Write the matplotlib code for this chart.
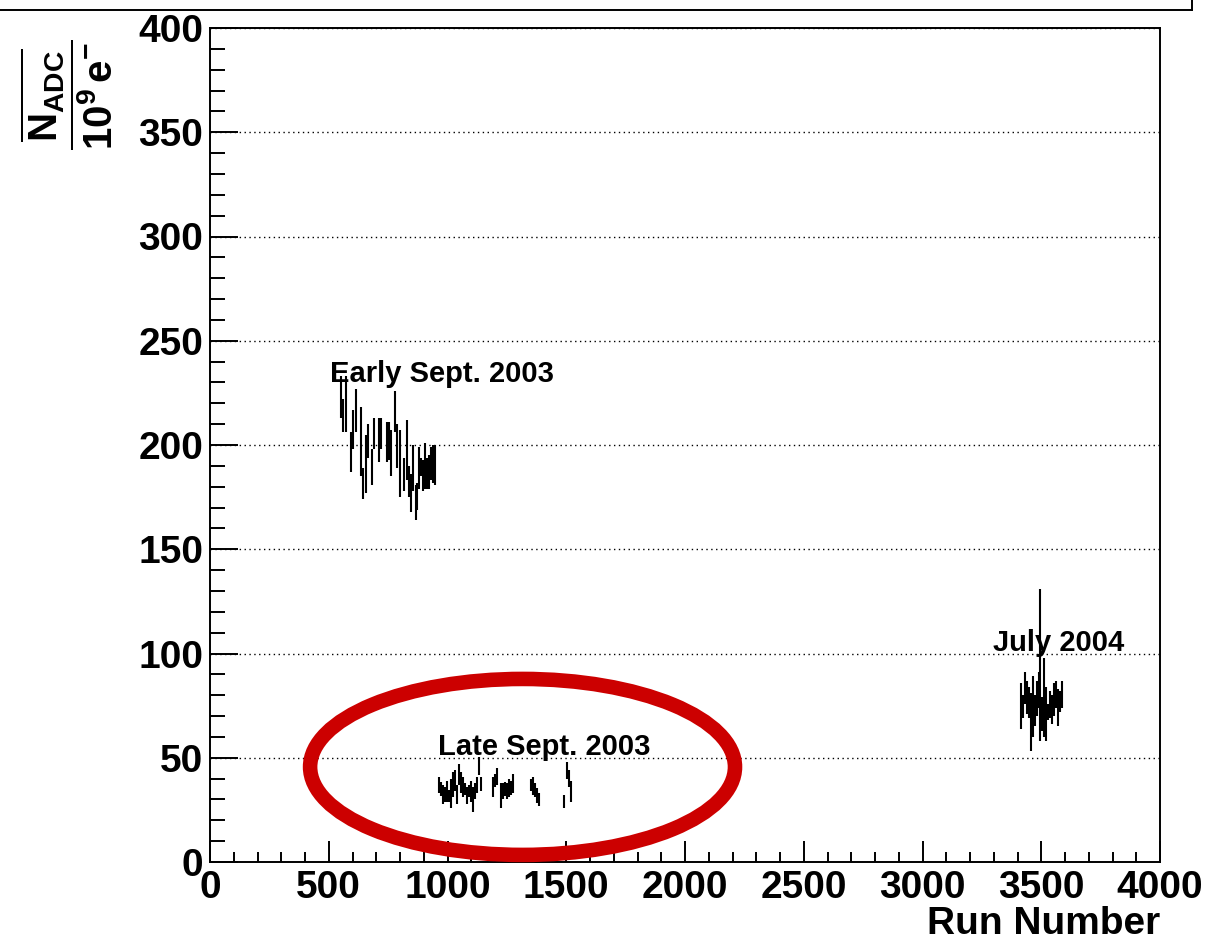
import numpy as np
import matplotlib
matplotlib.use("Agg")
import matplotlib.pyplot as plt
from matplotlib import font_manager as fm
from matplotlib.patches import Ellipse
from matplotlib.lines import Line2D
from matplotlib.ticker import MultipleLocator

# plain (not narrow) Liberation Sans Bold, loaded from its file
bold_path = None
for f in fm.findSystemFonts():
    if f.endswith("LiberationSans-Bold.ttf"):
        bold_path = f
        break
if bold_path:
    fm.fontManager.addfont(bold_path)
    bold_name = fm.FontProperties(fname=bold_path).get_name()
else:
    bold_name = "Liberation Sans"

plt.rcParams["font.family"] = [bold_name, "DejaVu Sans"]
plt.rcParams["font.weight"] = "bold"
plt.rcParams["mathtext.fontset"] = "custom"
plt.rcParams["mathtext.rm"] = bold_name + ":bold"
plt.rcParams["mathtext.bf"] = bold_name + ":bold"
plt.rcParams["mathtext.it"] = bold_name + ":bold"


def bold(size):
    if bold_path:
        return fm.FontProperties(fname=bold_path, size=size)
    return fm.FontProperties(family="Liberation Sans", weight="bold", size=size)


# early September 2003 runs
early_runs = [550, 559, 573, 592, 604, 616, 634, 643, 657, 665, 681, 691, 710, 719,
              747, 755, 762, 778, 789, 799, 817, 831, 839, 845, 853, 867, 873, 879,
              887, 896, 904, 912, 921, 929, 938, 946]
early_vals = [223, 214, 219.5, 196.5, 207.5, 216.5, 201.5, 181.5, 191, 202, 189.5, 205.5,
              202.5, 205.5, 201.5, 202, 196, 216, 199.5, 191, 186, 197.5, 182.5, 177,
              189, 172.5, 175.5, 189, 189.5, 185.5, 190, 186.5, 187, 191, 191, 190.5]
early_errs = [10, 8, 13.5, 9.5, 9.5, 10.5, 16.5, 7.5, 14, 8, 8.5, 7.5, 10.5, 7.5, 9.5, 9,
              11, 10, 10.5, 16, 8, 14.5, 7.5, 9, 11, 8.5, 6.5, 10, 4.5, 7.5, 11, 7.5, 8,
              8, 9, 9.5]

# late September 2003 runs
late_runs = [966, 974, 982, 991, 999, 1008, 1015, 1025, 1033, 1041, 1050, 1058, 1067,
             1075, 1083, 1092, 1097, 1106, 1115, 1123, 1131, 1140, 1190, 1198, 1210,
             1224, 1232, 1241, 1249, 1258, 1266, 1274, 1353, 1361, 1370, 1378, 1384,
             1491, 1502, 1510, 1519]
late_vals = [37, 35, 32.5, 32.5, 34, 31.75, 33, 37, 39, 32.5, 42, 38, 36, 35, 32, 34, 34,
             30, 34, 37, 46, 37.5, 36, 39, 41, 32, 34, 35, 34, 35.5, 35.5, 37.5, 37, 36.5,
             34.5, 32, 30, 29, 44, 40, 34]
late_errs = [4, 3.5, 4.5, 3.5, 5, 2.75, 7, 6, 5, 4.5, 5, 5, 5, 3, 4, 3, 5, 6, 4, 4, 4.5,
             3.5, 5, 3, 4, 6, 4, 3.5, 4, 4.5, 3.5, 4.5, 3, 4.5, 3.5, 3.5, 3, 3, 4, 4, 5]

# July 2004 runs
july_runs = [3413, 3425, 3433, 3441, 3450, 3458, 3467, 3475, 3483, 3489, 3495, 3503,
             3512, 3520, 3528, 3537, 3545, 3554, 3562, 3570, 3579, 3587]
july_vals = [75, 74.5, 83.5, 79, 76.5, 67, 74.5, 72.5, 78.5, 82.5, 94.5, 71, 79, 71, 72,
             75.5, 73, 78, 80.5, 74, 77, 80.5]
july_errs = [11, 5.5, 7.5, 8, 7.5, 14, 14.5, 7.5, 8.5, 8.5, 36.5, 8, 19, 13, 4, 6.5, 7,
             8, 6.5, 9, 5, 6.5]

period_labels = ["Early Sept. 2003", "Late Sept. 2003", "July 2004"]
label_pos = [(505, 234), (960, 55), (3297, 105)]

fig = plt.figure(figsize=(12.05, 9.44), dpi=100)
ax = fig.add_axes([210 / 1205, 82 / 944, 950 / 1205, 834 / 944])

for runs, vals, errs in [(early_runs, early_vals, early_errs),
                         (late_runs, late_vals, late_errs),
                         (july_runs, july_vals, july_errs)]:
    ax.errorbar(runs, vals, yerr=errs, fmt="none", ecolor="black", elinewidth=1.5,
                capsize=0)

for txt, (x, y) in zip(period_labels, label_pos):
    ax.text(x, y, txt, fontproperties=bold(21), ha="left", va="center")

# red ring around the late September runs
ring = Ellipse((1316, 45.6), 1789, 84.4, fill=False, edgecolor="#cc0000",
               linewidth=10.5, clip_on=False, zorder=5)
ax.add_patch(ring)

ax.set_xlim(0, 4000)
ax.set_ylim(0, 400)
ax.xaxis.set_major_locator(MultipleLocator(500))
ax.xaxis.set_minor_locator(MultipleLocator(100))
ax.yaxis.set_major_locator(MultipleLocator(50))
ax.yaxis.set_minor_locator(MultipleLocator(10))
ax.yaxis.grid(True, which="major", color="black", linestyle=(0, (1, 2.5)), linewidth=1.0)
ax.set_axisbelow(True)

ax.tick_params(axis="both", which="both", direction="in", width=1.4,
               top=False, right=False)
ax.tick_params(axis="x", which="major", length=15, pad=6)
ax.tick_params(axis="x", which="minor", length=7.5)
ax.tick_params(axis="y", which="major", length=20, pad=5)
ax.tick_params(axis="y", which="minor", length=10.5)
fig.canvas.draw()
for lab in ax.get_xticklabels() + ax.get_yticklabels():
    lab.set_fontproperties(bold(28))
for sp in ax.spines.values():
    sp.set_linewidth(1.4)

ax.set_xlabel("Run Number", fontproperties=bold(28), loc="right", labelpad=0)
fig.text(67 / 1205, 1 - 95 / 944,
         r"$\dfrac{\overline{\mathrm{N}_{\mathrm{ADC}}}}{\mathrm{10^{9}\,e^{-}}}$",
         fontsize=29, rotation=90, ha="center", va="center")

# edge of the title box above the frame
fig.add_artist(Line2D([0, 1192 / 1205], [1 - 10 / 944, 1 - 10 / 944],
                      transform=fig.transFigure, color="black", linewidth=1.4))
fig.add_artist(Line2D([1192 / 1205, 1192 / 1205], [1, 1 - 10 / 944],
                      transform=fig.transFigure, color="black", linewidth=1.4))

fig.savefig("out.png", dpi=100)
